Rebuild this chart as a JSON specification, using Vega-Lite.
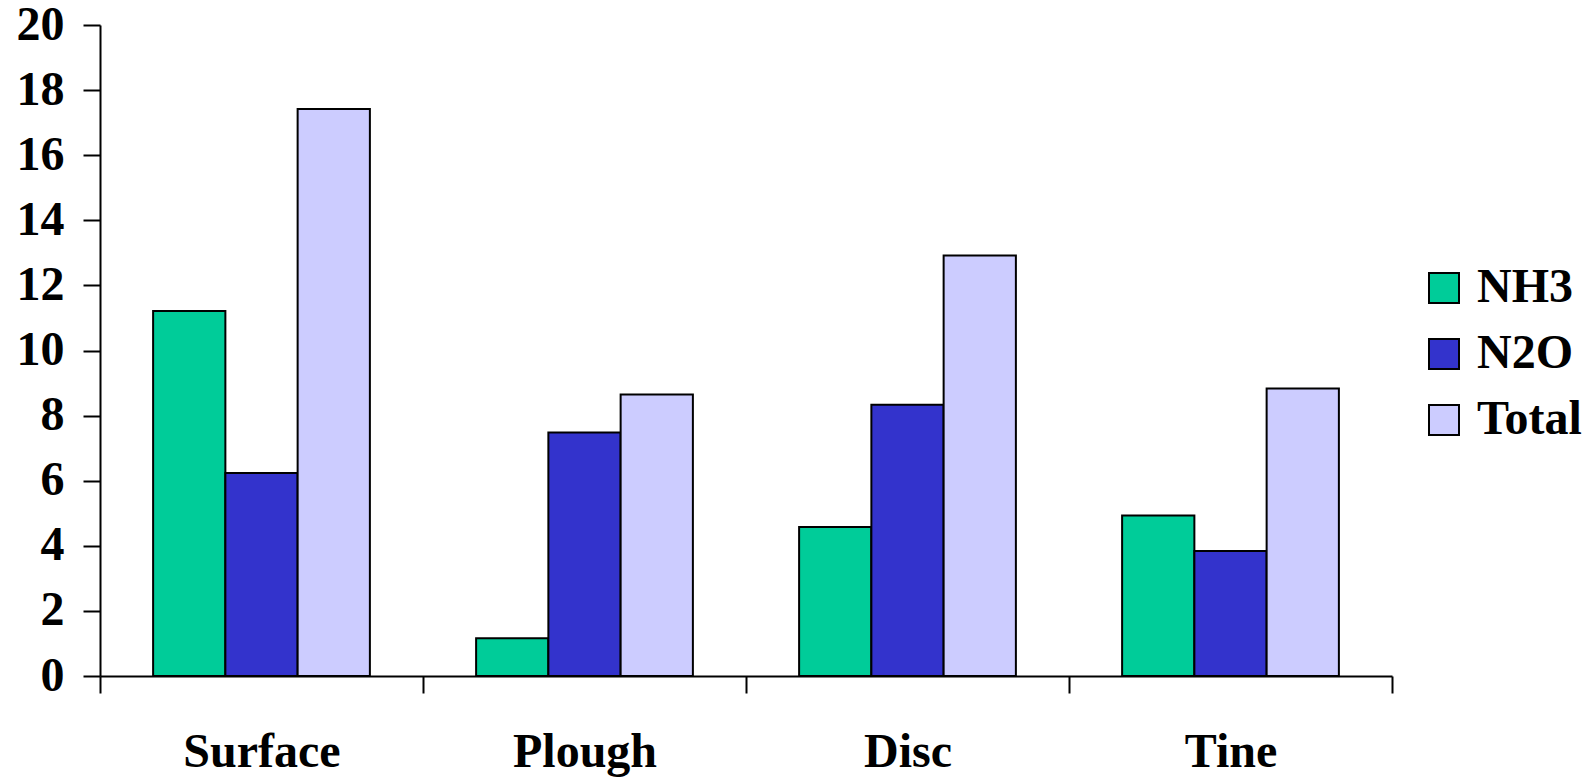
{
  "$schema": "https://vega.github.io/schema/vega-lite/v6.json",
  "autosize": "none",
  "width": 1292,
  "height": 651,
  "padding": {"left": 100, "top": 25, "right": 202, "bottom": 102},
  "background": "white",
  "data": {
    "values": [
      {"method": "Surface", "gas": "NH3", "value": 11.21},
      {"method": "Surface", "gas": "N2O", "value": 6.24},
      {"method": "Surface", "gas": "Total", "value": 17.42},
      {"method": "Plough", "gas": "NH3", "value": 1.16},
      {"method": "Plough", "gas": "N2O", "value": 7.48},
      {"method": "Plough", "gas": "Total", "value": 8.65},
      {"method": "Disc", "gas": "NH3", "value": 4.58},
      {"method": "Disc", "gas": "N2O", "value": 8.33},
      {"method": "Disc", "gas": "Total", "value": 12.92},
      {"method": "Tine", "gas": "NH3", "value": 4.93},
      {"method": "Tine", "gas": "N2O", "value": 3.84},
      {"method": "Tine", "gas": "Total", "value": 8.83}
    ]
  },
  "mark": {"type": "bar", "stroke": "black", "strokeWidth": 2, "opacity": 1},
  "encoding": {
    "x": {
      "field": "method",
      "type": "nominal",
      "sort": ["Surface", "Plough", "Disc", "Tine"],
      "scale": {"paddingInner": 0, "paddingOuter": 0},
      "axis": {
        "title": null,
        "labelAngle": 0,
        "tickBand": "extent",
        "domainColor": "black",
        "domainWidth": 2,
        "tickColor": "black",
        "tickWidth": 2,
        "tickSize": 17,
        "labelPadding": 35,
        "labelFont": "Liberation Serif",
        "labelFontWeight": "bold",
        "labelFontSize": 48,
        "labelColor": "black"
      }
    },
    "xOffset": {
      "field": "gas",
      "type": "nominal",
      "sort": ["NH3", "N2O", "Total"],
      "scale": {"paddingInner": 0, "paddingOuter": 0.735}
    },
    "y": {
      "field": "value",
      "type": "quantitative",
      "scale": {"domain": [0, 20], "nice": false},
      "axis": {
        "title": null,
        "values": [0, 2, 4, 6, 8, 10, 12, 14, 16, 18, 20],
        "grid": false,
        "domainColor": "black",
        "domainWidth": 2,
        "tickColor": "black",
        "tickWidth": 2,
        "tickSize": 17,
        "labelPadding": 19,
        "labelFont": "Liberation Serif",
        "labelFontWeight": "bold",
        "labelFontSize": 48,
        "labelColor": "black"
      }
    },
    "fill": {
      "field": "gas",
      "type": "nominal",
      "sort": ["NH3", "N2O", "Total"],
      "scale": {"domain": ["NH3", "N2O", "Total"], "range": ["#00CC99", "#3333CC", "#CCCCFF"]},
      "legend": {
        "title": null,
        "orient": "none",
        "legendX": 1320,
        "legendY": 239,
        "symbolType": "square",
        "symbolSize": 900,
        "symbolStrokeColor": "black",
        "symbolStrokeWidth": 2,
        "symbolOpacity": 1,
        "labelOffset": 9,
        "labelFont": "Liberation Serif",
        "labelFontWeight": "bold",
        "labelFontSize": 48,
        "labelColor": "black",
        "rowPadding": 18
      }
    }
  },
  "config": {"view": {"stroke": null}}
}
